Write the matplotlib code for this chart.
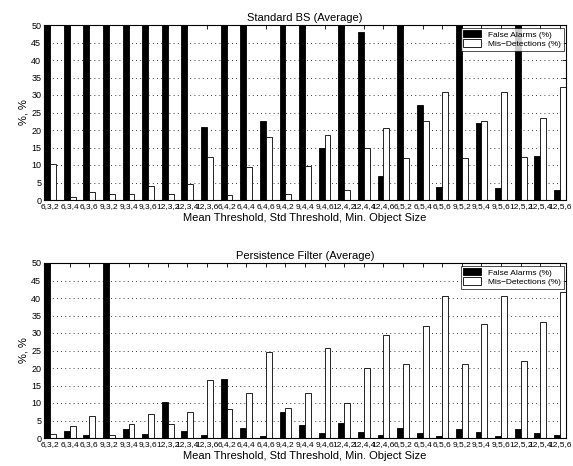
import matplotlib
matplotlib.use("Agg")
import matplotlib.pyplot as plt
import numpy as np

plt.rcParams['font.family'] = ['Liberation Sans', 'DejaVu Sans']

categories = ["6,3,2", "6,3,4", "6,3,6", "9,3,2", "9,3,4", "9,3,6", "12,3,2", "12,3,4", "12,3,6",
              "6,4,2", "6,4,4", "6,4,6", "9,4,2", "9,4,4", "9,4,6", "12,4,2", "12,4,4", "12,4,6",
              "6,5,2", "6,5,4", "6,5,6", "9,5,2", "9,5,4", "9,5,6", "12,5,2", "12,5,4", "12,5,6"]

bs_false_alarms = [50, 50, 50, 50, 50, 50, 50, 50, 20.9,
                   50, 50, 22.6, 50, 50, 15.0, 50, 48.1, 7.0,
                   50, 27.1, 3.7, 50, 22.0, 3.3, 50, 12.6, 2.8]
bs_mis_detections = [10.2, 1.0, 2.4, 1.6, 1.8, 4.1, 1.6, 4.5, 12.3,
                     1.5, 9.5, 18.1, 1.6, 9.8, 18.5, 3.0, 15.0, 20.6,
                     11.9, 22.6, 31.0, 11.9, 22.7, 31.0, 12.4, 23.5, 32.2]

pf_false_alarms = [50, 1.9, 1.0, 50, 2.7, 1.2, 10.4, 2.1, 1.0,
                   16.8, 3.0, 0.6, 7.3, 3.8, 1.4, 4.2, 1.6, 1.0,
                   2.8, 1.5, 0.7, 2.7, 1.6, 0.7, 2.7, 1.3, 1.0]
pf_mis_detections = [1.2, 3.5, 6.3, 1.0, 3.9, 7.0, 4.0, 7.5, 16.5,
                     8.3, 12.9, 24.7, 8.6, 13.0, 25.7, 10.1, 20.1, 29.5,
                     21.2, 32.1, 40.6, 21.2, 32.5, 40.6, 22.0, 33.2, 41.6]

titles = ["Standard BS (Average)", "Persistence Filter (Average)"]
xlabel = "Mean Threshold, Std Threshold, Min. Object Size"
ylabel = "%, %"
legend_labels = ["False Alarms (%)", "Mis\u2212Detections (%)"]

W, H = 573, 466
fig = plt.figure(figsize=(W / 100, H / 100), dpi=100)

def ax_rect(left, top, right, bottom):
    return [left / W, 1 - bottom / H, (right - left) / W, (bottom - top) / H]

rects = [ax_rect(44, 25, 566, 200), ax_rect(44, 263, 566, 438)]
data = [(bs_false_alarms, bs_mis_detections), (pf_false_alarms, pf_mis_detections)]

x = np.arange(1, len(categories) + 1)
bw = 0.3
for rect, (fa, md), title in zip(rects, data, titles):
    ax = fig.add_axes(rect)
    ax.bar(x - bw / 2, fa, width=bw, color='black', edgecolor='black', linewidth=0.6,
           label=legend_labels[0], zorder=2)
    ax.bar(x + bw / 2, md, width=bw, color='white', edgecolor='black', linewidth=0.6,
           label=legend_labels[1], zorder=2)
    ax.set_xlim(x[0] - 2 * bw / 2 - 0.01, x[-1] + 2 * bw / 2 + 0.01)
    ax.set_ylim(0, 50)
    ax.set_yticks(np.arange(0, 51, 5))
    ax.set_xticks(x)
    ax.set_xticklabels(categories, fontsize=6)
    ax.tick_params(axis='y', labelsize=6.5)
    ax.tick_params(direction='in', length=3, width=0.6, top=True, right=True, pad=2)
    ax.yaxis.grid(True, linestyle=(0, (1, 4)), color='black', linewidth=0.6)
    ax.set_axisbelow(True)
    for s in ax.spines.values():
        s.set_linewidth(0.8)
    ax.set_title(title, fontsize=8, pad=3)
    ax.set_xlabel(xlabel, fontsize=8, labelpad=2)
    ax.set_ylabel(ylabel, fontsize=8, labelpad=2)
    leg = ax.legend(loc='upper right', fontsize=6, frameon=True, fancybox=False,
                    borderaxespad=0.3, handlelength=2.2, handleheight=1.0,
                    borderpad=0.3, labelspacing=0.1, handletextpad=0.8)
    leg.get_frame().set_edgecolor('black')
    leg.get_frame().set_linewidth(0.6)
    leg.set_zorder(5)

fig.savefig("out.png", dpi=100)
